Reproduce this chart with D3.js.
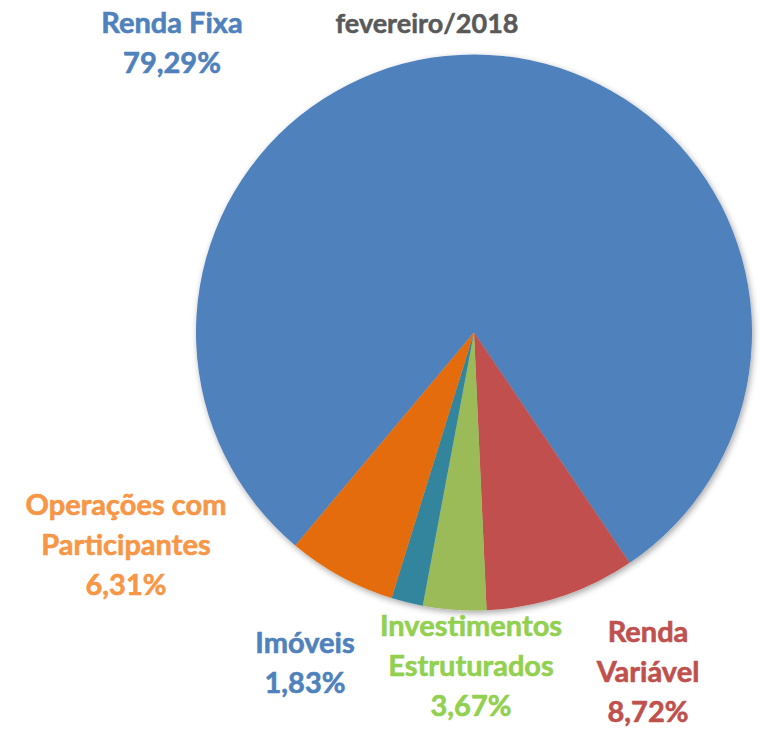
<!DOCTYPE html>
<html>
<head>
<meta charset="utf-8">
<script src="https://cdn.jsdelivr.net/npm/d3@7"></script>
<style>
  body { margin: 0; background: #fff; }
  svg { display: block; }
  text { font-family: Lato, "Open Sans", sans-serif; font-weight: bold; }
</style>
</head>
<body>
<div id="chart"></div>
<script>
// data
var categories = ["Renda Fixa", "Renda Variável", "Investimentos Estruturados", "Imóveis", "Operações com Participantes"];
var values = [79.29, 8.72, 3.67, 1.83, 6.31];
var labelLines = [["Renda Fixa"], ["Renda", "Variável"], ["Investimentos", "Estruturados"], ["Imóveis"], ["Operações com", "Participantes"]];
var subtitle = "fevereiro/2018";

var sliceColors = ["#4F81BD", "#C0504D", "#9BBB59", "#31859C", "#E46C0A"];
var labelColors = ["#4F81BD", "#C0504D", "#92D050", "#4F81BD", "#F79646"];
// label anchor (center x, first baseline y)
var labelPos = [[172, 33], [648, 642], [471, 636], [305, 653], [126, 515]];

var W = 760, H = 729;
var cx = 474, cy = 332.5, r = 278;
var lineH = 40;

var svg = d3.select("#chart").append("svg").attr("width", W).attr("height", H);

var defs = svg.append("defs");
var f = defs.append("filter").attr("id", "shadow")
  .attr("x", "-10%").attr("y", "-10%").attr("width", "120%").attr("height", "120%");
f.append("feDropShadow").attr("dx", 1.5).attr("dy", 2.5).attr("stdDeviation", 3)
  .attr("flood-color", "#000").attr("flood-opacity", 0.35);

var startA = 220 * Math.PI / 180;
var pie = d3.pie().sort(null).startAngle(startA).endAngle(startA + 2 * Math.PI);
var arc = d3.arc().innerRadius(0).outerRadius(r);
var arcs = pie(values);

var g = svg.append("g").attr("transform", "translate(" + cx + "," + cy + ")")
  .attr("filter", "url(#shadow)");
g.selectAll("path").data(arcs).enter().append("path")
  .attr("d", arc)
  .attr("fill", function(d, i) { return sliceColors[i]; });

// subtitle
svg.append("text").attr("x", 427).attr("y", 33).attr("text-anchor", "middle")
  .style("font-size", "27px").attr("fill", "#595959")
  .attr("stroke", "#595959").attr("stroke-width", 0.5).text(subtitle);

var fmt = function(v) { return d3.format(".2f")(v).replace(".", ",") + "%"; };

categories.forEach(function(c, i) {
  var lines = labelLines[i].concat([fmt(values[i])]);
  var t = svg.append("text")
    .attr("text-anchor", "middle")
    .attr("fill", labelColors[i])
    .attr("stroke", labelColors[i]).attr("stroke-width", 0.6)
    .style("font-size", "29px");
  lines.forEach(function(s, j) {
    t.append("tspan").attr("x", labelPos[i][0]).attr("y", labelPos[i][1] + j * lineH).text(s);
  });
});
</script>
</body>
</html>
